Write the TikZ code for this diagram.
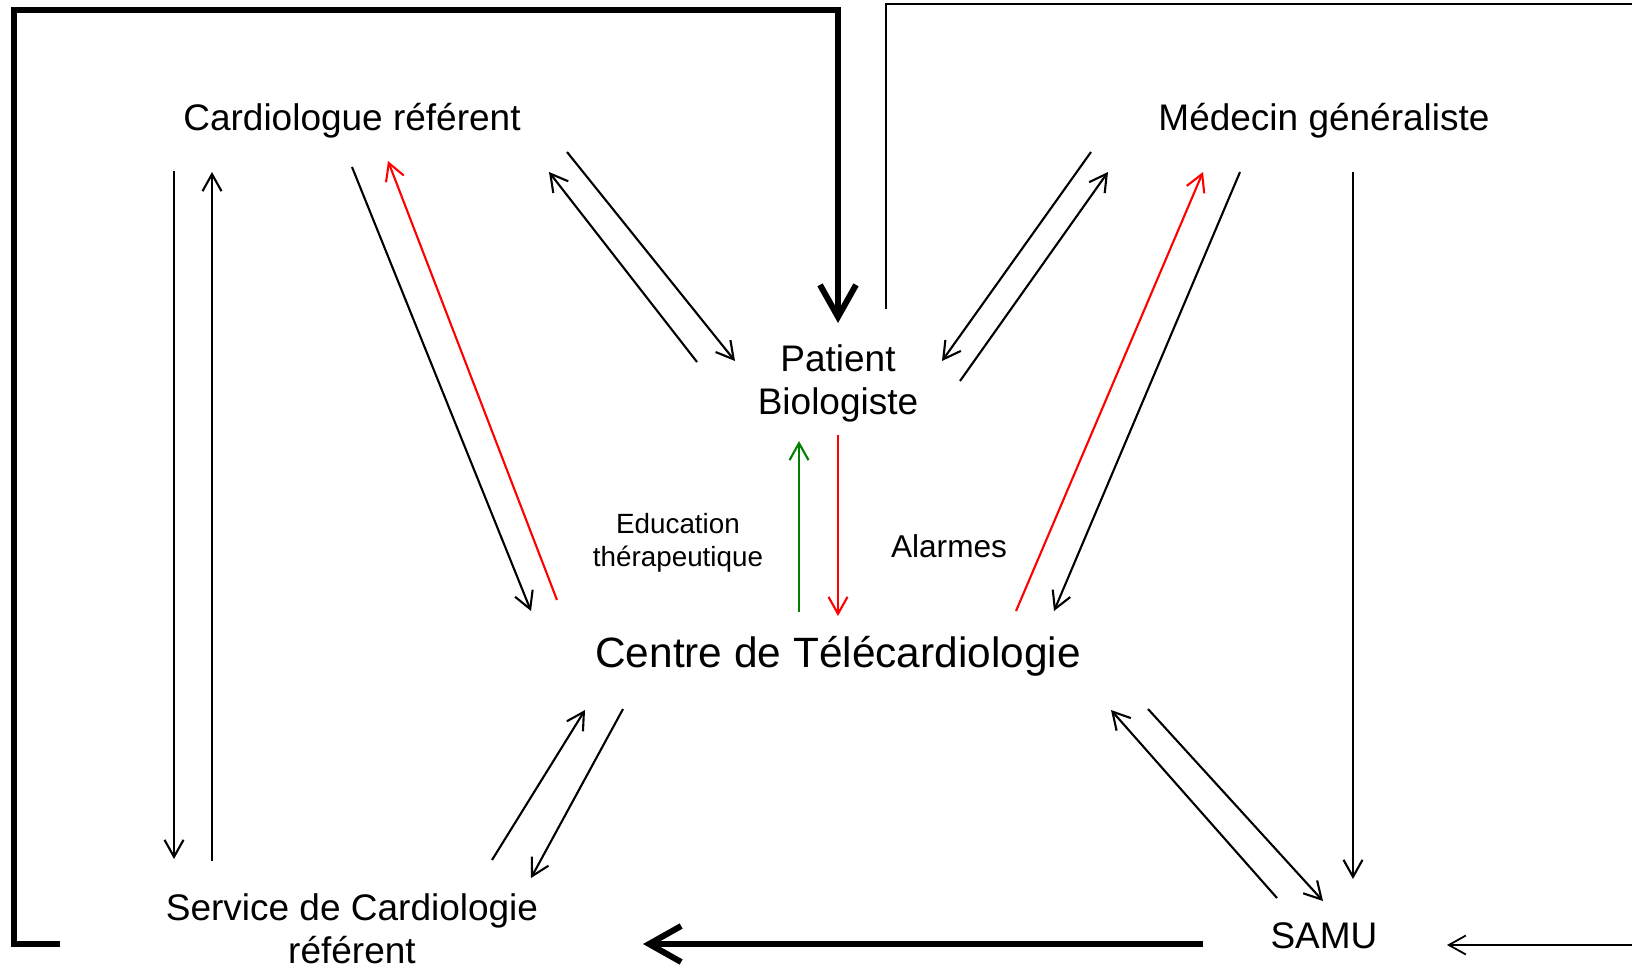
\documentclass[tikz,border=0pt]{standalone}
\usepackage{fontspec}
\setmainfont{Liberation Sans}
\usetikzlibrary{arrows.meta}
\definecolor{alarmred}{RGB}{255,0,0}
\definecolor{edugreen}{RGB}{0,128,0}
\begin{document}
\begin{tikzpicture}[x=0.5pt,y=-0.5pt,
  lbl/.style={inner sep=0pt, font=\fontsize{18.5}{21.8}\selectfont, align=center},
  conn/.style={line width=1.05pt, -{Straight Barb[length=8.5pt,width=9.5pt]}},
  redconn/.style={conn, draw=alarmred},
  greenconn/.style={conn, draw=edugreen},
  thickconn/.style={line width=3pt, -{Straight Barb[length=16pt,width=18pt]}},
  thinframe/.style={line width=0.9pt, -{Straight Barb[length=8.5pt,width=9.5pt]}}
]
\useasboundingbox (0,0) rectangle (1632,969);
\clip (0,0) rectangle (1632,969);

% nodes
\node[lbl, anchor=base] (cardio) at (352,130) {Cardiologue référent};
\node[lbl, anchor=base] (medecin) at (1324,130) {Médecin généraliste};
\node[lbl, anchor=north] (patient) at (838,344) {Patient\\Biologiste};
\node[lbl, anchor=base, font=\fontsize{21.2}{25}\selectfont] (centre) at (838,667) {Centre de Télécardiologie};
\node[lbl, anchor=north] (service) at (352,893) {Service de Cardiologie\\référent};
\node[lbl, anchor=base] (samu) at (1324,948) {SAMU};
\node[lbl, anchor=north, font=\fontsize{13.9}{16.5}\selectfont] (edu) at (678,513) {Education\\thérapeutique};
\node[lbl, anchor=base, font=\fontsize{15.8}{19}\selectfont] (alarmes) at (949,557) {Alarmes};

% connector end points
\coordinate (cs1) at (174,171); \coordinate (cs2) at (174,859);
\coordinate (sc1) at (212,861); \coordinate (sc2) at (212,172);
\coordinate (cc1) at (352,167); \coordinate (cc2) at (531,611);
\coordinate (rc1) at (557,600); \coordinate (rc2) at (388,161);
\coordinate (cp1) at (567,152); \coordinate (cp2) at (735,361);
\coordinate (pc1) at (697,362); \coordinate (pc2) at (549,172);
\coordinate (mp1) at (1091,152); \coordinate (mp2) at (942,361);
\coordinate (pm1) at (960,381); \coordinate (pm2) at (1108,172);
\coordinate (rm1) at (1016,611); \coordinate (rm2) at (1203,172);
\coordinate (mc1) at (1240,172); \coordinate (mc2) at (1054,611);
\coordinate (ms1) at (1353,172); \coordinate (ms2) at (1353,879);
\coordinate (gp1) at (799,612); \coordinate (gp2) at (799,441);
\coordinate (rp1) at (838,435); \coordinate (rp2) at (838,616);
\coordinate (sv1) at (492,860); \coordinate (sv2) at (585,710);
\coordinate (vs1) at (623,709); \coordinate (vs2) at (531,878);
\coordinate (sa1) at (1277,898); \coordinate (sa2) at (1111,710);
\coordinate (as1) at (1148,709); \coordinate (as2) at (1323,901);
% frames
\coordinate (fl0) at (60,944); \coordinate (fl1) at (14,944);
\coordinate (fl2) at (14,10); \coordinate (fl3) at (838,10);
\coordinate (fl4) at (838,323);
\coordinate (bt1) at (1203,944); \coordinate (bt2) at (643,944);
\coordinate (fr0) at (886,309); \coordinate (fr1) at (886,4);
\coordinate (fr2) at (1700,4); \coordinate (fr3) at (1700,945);
\coordinate (fr4) at (1447,945);

% connectors
\draw[conn] (cs1) -- (cs2);
\draw[conn] (sc1) -- (sc2);
\draw[conn] (cc1) -- (cc2);
\draw[redconn] (rc1) -- (rc2);
\draw[conn] (cp1) -- (cp2);
\draw[conn] (pc1) -- (pc2);
\draw[conn] (mp1) -- (mp2);
\draw[conn] (pm1) -- (pm2);
\draw[redconn] (rm1) -- (rm2);
\draw[conn] (mc1) -- (mc2);
\draw[conn] (ms1) -- (ms2);
\draw[greenconn] (gp1) -- (gp2);
\draw[redconn] (rp1) -- (rp2);
\draw[conn] (sv1) -- (sv2);
\draw[conn] (vs1) -- (vs2);
\draw[conn] (sa1) -- (sa2);
\draw[conn] (as1) -- (as2);

\draw[thickconn] (fl0) -- (fl1) -- (fl2) -- (fl3) -- (fl4);
\draw[thickconn] (bt1) -- (bt2);
\draw[thinframe] (fr0) -- (fr1) -- (fr2) -- (fr3) -- (fr4);
\end{tikzpicture}
\end{document}
